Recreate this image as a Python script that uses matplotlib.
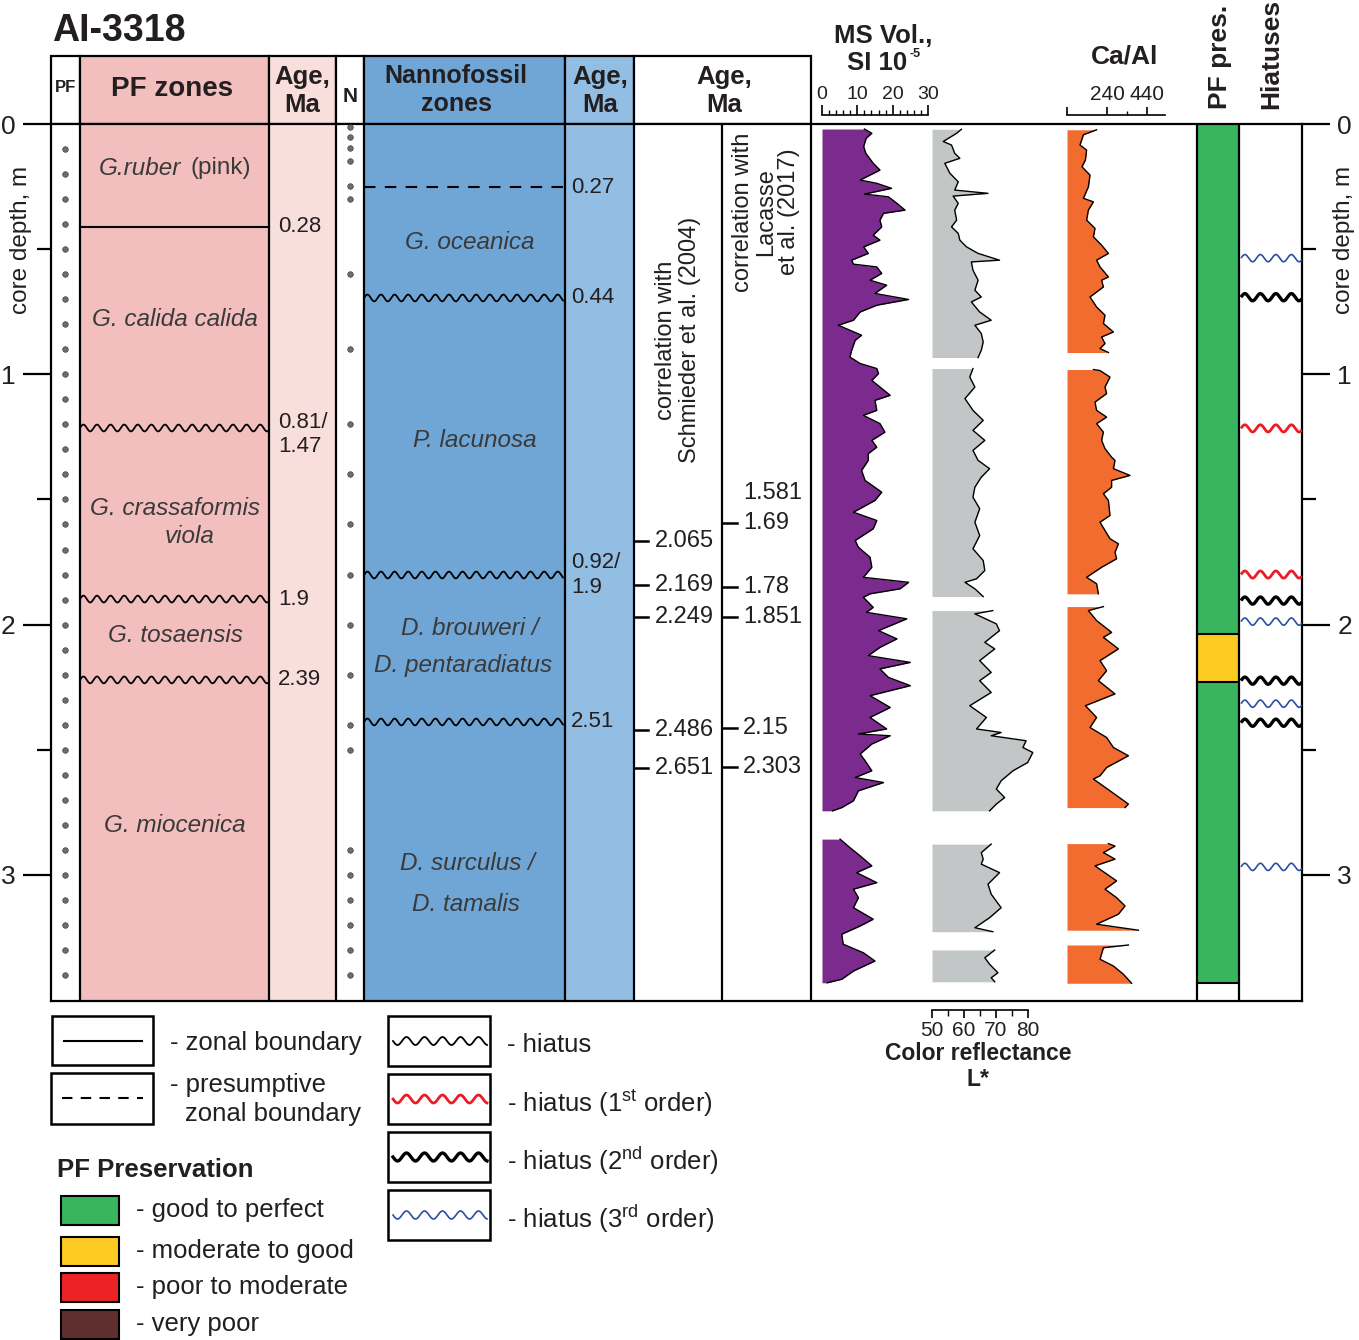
import numpy as np
import matplotlib
matplotlib.use("Agg")
import matplotlib.pyplot as plt
from matplotlib.patches import Rectangle

plt.rcParams['font.family'] = ['Liberation Sans', 'DejaVu Sans']
plt.rcParams['mathtext.fontset'] = 'custom'
plt.rcParams['mathtext.rm'] = 'Liberation Sans'
plt.rcParams['mathtext.bf'] = 'Liberation Sans:bold'

W, H = 1359, 1340
PX_PER_M = 250.3          # vertical scale of the core, px per metre
Y_TOP, Y_BOT = 124, 1001  # pixel rows of 0 m and of the column bottoms
D_BOT = (Y_BOT - Y_TOP) / PX_PER_M

TXT = '#231f20'
ZTXT = '#3a3a3a'

# ---------------- data ----------------
DEPTH_TICKS = [0, 1, 2, 3]
DEPTH_MINOR = [0.5, 1.5, 2.5]

PF_DOTS = [0.1, 0.2, 0.3, 0.4, 0.5, 0.6, 0.7, 0.8, 0.9, 1.0, 1.1, 1.2, 1.3, 1.4,
           1.5, 1.6, 1.7, 1.8, 1.9, 2.0, 2.1, 2.2, 2.3, 2.4, 2.5, 2.6, 2.7, 2.8,
           2.9, 3.0, 3.1, 3.2, 3.3, 3.4]
N_DOTS = [0.012, 0.052, 0.096, 0.148, 0.246, 0.30, 0.60, 0.90, 1.20, 1.40,
          1.60, 1.80, 2.00, 2.20, 2.40, 2.50, 2.90, 3.00, 3.10, 3.20, 3.30, 3.40]

# planktonic foraminifera zones
PF_BOUND_DEPTH = [0.4115, 1.2145, 1.898, 2.221]
PF_BOUND_KIND = ['solid', 'wavy', 'wavy', 'wavy']
PF_BOUND_AGE = ['0.28', '0.81/\n1.47', '1.9', '2.39']
PF_ZONE_LINES = [  # (text, depth, x centre)
    ('G. calida calida', 0.783, 175),
    ('G. crassaformis', 1.536, 175),
    ('viola', 1.648, 190),
    ('G. tosaensis', 2.045, 175),
    ('G. miocenica', 2.801, 175),
]

# nannofossil zones
NN_BOUND_DEPTH = [0.2517, 0.695, 1.8018, 2.389]
NN_BOUND_KIND = ['dashed', 'wavy', 'wavy', 'wavy']
NN_BOUND_AGE = ['0.27', '0.44', '0.92/\n1.9', '2.51']
NN_ZONE_LINES = [
    ('G. oceanica', 0.475, 470),
    ('P. lacunosa', 1.266, 475),
    ('D. brouweri /', 2.017, 470),
    ('D. pentaradiatus', 2.165, 463),
    ('D. surculus /', 2.956, 467),
    ('D. tamalis', 3.12, 466),
]

# age correlations
SCHM_DEPTH = [1.666, 1.842, 1.970, 2.420, 2.572]
SCHM_AGE = ['2.065', '2.169', '2.249', '2.486', '2.651']
LAC_DEPTH = [1.474, 1.594, 1.850, 1.970, 2.413, 2.569]
LAC_AGE = ['1.581', '1.69', '1.78', '1.851', '2.15', '2.303']
LAC_TICK = [False, True, True, True, True, True]

# hiatuses (order 1, 2, 3)
HIATUS_DEPTH = [0.536, 0.692, 1.216, 1.800, 1.904, 1.988, 2.224, 2.316, 2.392, 2.968]
HIATUS_ORDER = [3, 2, 1, 1, 2, 3, 2, 3, 2, 3]

# PF preservation
PRES_TOP = [0.0, 2.036, 2.228]
PRES_BOT = [2.036, 2.228, 3.430]
PRES_CLASS = ['good', 'moderate', 'good']

# magnetic susceptibility, SI 1e-5: (depth m, value)
MS_SEG1 = [(0.020, 12.0), (0.037, 14.1), (0.057, 12.5), (0.090, 11.8), (0.117, 12.4),
           (0.157, 14.5), (0.184, 16.4), (0.204, 13.6), (0.224, 10.8), (0.237, 15.5),
           (0.257, 19.7), (0.280, 12.0), (0.291, 18.8), (0.317, 21.2), (0.344, 23.5),
           (0.357, 17.4), (0.384, 16.4), (0.411, 16.9), (0.444, 14.5), (0.464, 16.4),
           (0.491, 11.8), (0.517, 13.1), (0.544, 8.4), (0.560, 8.9), (0.571, 15.5),
           (0.597, 16.9), (0.624, 13.6), (0.644, 18.3), (0.677, 15.0), (0.701, 24.5),
           (0.724, 15.5), (0.751, 10.8), (0.784, 8.9), (0.804, 4.6), (0.824, 7.9),
           (0.844, 11.2), (0.864, 9.4), (0.904, 8.4), (0.931, 7.9), (0.957, 10.8),
           (0.977, 15.5), (0.997, 16.0), (1.024, 14.1), (1.051, 16.4), (1.084, 19.3),
           (1.104, 15.0), (1.144, 15.5), (1.164, 11.7), (1.197, 16.4), (1.231, 17.8),
           (1.264, 14.1), (1.291, 15.5), (1.317, 13.1), (1.344, 13.1), (1.384, 11.2),
           (1.424, 12.2), (1.471, 16.9), (1.504, 15.0), (1.551, 8.9), (1.584, 15.5),
           (1.617, 14.5), (1.664, 9.4), (1.691, 10.3), (1.731, 13.6), (1.771, 14.1),
           (1.811, 11.7), (1.831, 24.5), (1.857, 22.1), (1.877, 13.6), (1.891, 11.7),
           (1.931, 14.5), (1.951, 12.6), (1.977, 24.0), (2.024, 16.0), (2.057, 21.2),
           (2.091, 16.4), (2.124, 13.1), (2.151, 25.0), (2.177, 16.4), (2.211, 18.8),
           (2.244, 25.0), (2.284, 13.6), (2.331, 19.3), (2.371, 13.6), (2.417, 18.3),
           (2.437, 10.3), (2.444, 19.3), (2.477, 14.1), (2.517, 10.8), (2.544, 12.2),
           (2.584, 14.1), (2.611, 9.4), (2.631, 17.4), (2.664, 10.3), (2.704, 8.9),
           (2.731, 5.6), (2.744, 3.0)]
MS_SEG2 = [(2.857, 5.1), (2.891, 7.9), (2.924, 10.8), (2.964, 14.1), (2.991, 9.8),
           (3.031, 15.5), (3.057, 8.9), (3.091, 10.3), (3.131, 8.9), (3.177, 14.5),
           (3.204, 10.8), (3.237, 5.6), (3.277, 6.0), (3.311, 11.7), (3.344, 15.0),
           (3.384, 8.9), (3.417, 5.6), (3.431, 1.5)]

# colour reflectance L*
LS_SEG1 = [(0.021, 59.2), (0.037, 57.7), (0.070, 53.5), (0.084, 56.1), (0.117, 57.1),
           (0.137, 58.7), (0.157, 54.0), (0.197, 55.6), (0.231, 58.2), (0.264, 57.1),
           (0.277, 67.5), (0.288, 56.6), (0.317, 58.2), (0.344, 57.1), (0.384, 57.7),
           (0.411, 56.1), (0.437, 58.2), (0.464, 58.7), (0.491, 60.8), (0.517, 64.4),
           (0.544, 71.1), (0.551, 62.3), (0.584, 62.8), (0.624, 64.4), (0.664, 63.4),
           (0.691, 65.4), (0.711, 62.3), (0.751, 64.9), (0.784, 68.5), (0.804, 63.4),
           (0.837, 65.4), (0.871, 66.0), (0.904, 65.4), (0.933, 64.4)]
LS_SEG2 = [(0.977, 62.8), (1.011, 61.8), (1.051, 63.4), (1.097, 60.3), (1.144, 62.8),
           (1.184, 66.0), (1.224, 62.8), (1.264, 66.5), (1.304, 62.8), (1.344, 64.4),
           (1.377, 68.0), (1.411, 65.4), (1.451, 63.4), (1.491, 62.8), (1.537, 64.9),
           (1.591, 63.4), (1.644, 64.9), (1.697, 62.8), (1.744, 66.0), (1.784, 66.5),
           (1.817, 63.9), (1.831, 60.3), (1.857, 63.4), (1.888, 66.0)]
LS_SEG3 = [(1.944, 69.0), (1.957, 63.4), (1.997, 70.1), (2.024, 71.1), (2.071, 66.5),
           (2.097, 69.6), (2.144, 64.9), (2.191, 68.5), (2.224, 64.9), (2.271, 68.5),
           (2.324, 61.8), (2.371, 67.0), (2.417, 63.9), (2.431, 71.6), (2.444, 68.5),
           (2.464, 79.4), (2.491, 78.4), (2.511, 81.5), (2.551, 79.9), (2.584, 75.3),
           (2.624, 71.6), (2.657, 70.1), (2.691, 72.7), (2.717, 70.1), (2.744, 68.0)]
LS_SEG4 = [(2.877, 68.5), (2.911, 65.4), (2.937, 66.0), (2.957, 65.4), (2.991, 71.1),
           (3.037, 67.5), (3.077, 68.5), (3.131, 71.6), (3.171, 68.0), (3.211, 63.4),
           (3.227, 69.0)]
LS_SEG5 = [(3.300, 69.6), (3.331, 66.5), (3.357, 68.0), (3.391, 70.6), (3.411, 68.5),
           (3.427, 69.6)]

# Ca/Al
CA_SEG1 = [(0.023, 188), (0.043, 122), (0.084, 105), (0.104, 138), (0.144, 132),
           (0.171, 115), (0.204, 155), (0.251, 147), (0.297, 122), (0.311, 172),
           (0.344, 147), (0.384, 138), (0.417, 180), (0.451, 172), (0.484, 213),
           (0.517, 247), (0.544, 188), (0.571, 205), (0.611, 247), (0.624, 213),
           (0.651, 222), (0.691, 155), (0.731, 188), (0.764, 230), (0.797, 222),
           (0.831, 272), (0.851, 213), (0.877, 230), (0.897, 205), (0.913, 247)]
CA_SEG2 = [(0.981, 172), (0.985, 205), (1.011, 255), (1.051, 230), (1.077, 238),
           (1.111, 180), (1.144, 188), (1.171, 238), (1.197, 188), (1.231, 222),
           (1.264, 213), (1.297, 230), (1.331, 263), (1.344, 280), (1.377, 272),
           (1.404, 355), (1.424, 263), (1.451, 263), (1.477, 222), (1.504, 247),
           (1.564, 255), (1.591, 205), (1.624, 230), (1.657, 255), (1.677, 297),
           (1.711, 280), (1.737, 288), (1.771, 213), (1.811, 138), (1.837, 188),
           (1.877, 197)]
CA_SEG3 = [(1.928, 222), (1.944, 147), (1.984, 188), (2.031, 263), (2.051, 222),
           (2.097, 297), (2.144, 205), (2.184, 238), (2.224, 197), (2.277, 280),
           (2.324, 132), (2.371, 188), (2.411, 155), (2.451, 238), (2.491, 272),
           (2.524, 347), (2.571, 238), (2.604, 205), (2.617, 172), (2.664, 255),
           (2.717, 347), (2.731, 330)]
CA_SEG4 = [(2.875, 247), (2.885, 280), (2.911, 222), (2.937, 280), (2.964, 180),
           (3.024, 288), (3.057, 230), (3.091, 288), (3.124, 330), (3.157, 297),
           (3.197, 188), (3.221, 397)]
CA_SEG5 = [(3.280, 347), (3.291, 222), (3.337, 205), (3.364, 272), (3.397, 322),
           (3.433, 363)]

# ---------------- colours ----------------
PINK, PINK_L = '#f2bfbe', '#f9dfdc'
BLUE, BLUE_L = '#70a6d6', '#93bee3'
PURPLE, GREY, ORANGE = '#7b2b8e', '#c3c6c7', '#f26c2f'
PRES_COL = {'good': '#39b45f', 'moderate': '#fdcb22', 'poor': '#ed2224', 'very poor': '#5f2f2f'}
HIATUS_STYLE = {0: ('black', 1.3), 1: ('#ed1c24', 2.0), 2: ('black', 2.4), 3: ('#2b4ea2', 1.2)}

fig = plt.figure(figsize=(W / 100, H / 100), dpi=100)


def px_axes(x0, y0, x1, y1):
    return fig.add_axes([x0 / W, 1 - y1 / H, (x1 - x0) / W, (y1 - y0) / H])


def wave(x0, x1, period, amp):
    xs = np.linspace(x0, x1, 300)
    return xs, amp * np.sin(2 * np.pi * (xs - x0) / period)


# background axes in pixel units: headers, legend
bg = px_axes(0, 0, W, H)
bg.set_xlim(0, W)
bg.set_ylim(H, 0)
bg.axis('off')

bg.text(52, 31, 'AI-3318', fontsize=27, weight='bold', color=TXT, ha='left', va='center')

# header row
hdr = [(51, 80, 'white'), (80, 269, PINK), (269, 336, PINK_L), (336, 364, 'white'),
       (364, 565, BLUE), (565, 634, BLUE_L), (634, 811, 'white')]
for x0, x1, c in hdr:
    bg.add_patch(Rectangle((x0, 56), x1 - x0, Y_TOP - 56, facecolor=c,
                           edgecolor='black', lw=1.6))
bg.text(65, 88, 'PF', fontsize=12, weight='bold', color=TXT, ha='center', va='center')
bg.text(172, 89, 'PF zones', fontsize=20, weight='bold', color=TXT, ha='center', va='center')
for xc in [302, 600, 724]:
    bg.text(xc, 91, 'Age,\nMa', fontsize=18.5, weight='bold', color=TXT, ha='center',
            va='center', linespacing=1.2)
bg.text(350, 97, 'N', fontsize=15, weight='bold', color=TXT, ha='center', va='center')
bg.text(456, 90, 'Nannofossil\nzones', fontsize=18, weight='bold', color=TXT, ha='center',
        va='center', linespacing=1.25)

bg.text(883, 36, 'MS Vol.,', fontsize=18.5, weight='bold', color=TXT, ha='center', va='center')
bg.text(877, 63, 'SI 10', fontsize=18.5, weight='bold', color=TXT, ha='center', va='center')
bg.text(910, 54, '-5', fontsize=9, weight='bold', color=TXT, ha='left', va='center')
bg.text(1125, 56, 'Ca/Al', fontsize=19, weight='bold', color=TXT, ha='center', va='center')
bg.text(1220, 57, 'PF pres.', fontsize=19, weight='bold', color=TXT, rotation=90,
        ha='center', va='center')
bg.text(1271, 54, 'Hiatuses', fontsize=19, weight='bold', color=TXT, rotation=90,
        ha='center', va='center')
bg.text(21, 240, 'core depth, m', fontsize=17.5, color=TXT, rotation=90,
        ha='center', va='center')
bg.text(1344, 240, 'core depth, m', fontsize=17.5, color=TXT, rotation=90,
        ha='center', va='center')
bg.text(857, 824, 'data gap', fontsize=11.5, color=TXT, ha='center', va='center')
bg.text(957, 825, 'data gap', fontsize=11.5, color=TXT, ha='center', va='center')
bg.text(978, 1054, 'Color reflectance', fontsize=16.5, weight='bold', color=TXT,
        ha='center', va='center')
bg.text(978, 1079, 'L*', fontsize=16.5, weight='bold', color=TXT, ha='center', va='center')

# ---------------- main depth axes (x in px, y in metres) ----------------
ax = px_axes(51, Y_TOP, 1302, Y_BOT)
ax.set_xlim(51, 1302)
ax.set_ylim(D_BOT, 0)
for s in ax.spines.values():
    s.set_linewidth(1.6)
ax.set_xticks([])
ax.set_yticks(DEPTH_TICKS)
ax.set_yticks(DEPTH_MINOR, minor=True)
ax.yaxis.set_ticks_position('both')
ax.tick_params(axis='y', which='major', length=20.5, width=1.6, labelsize=19,
               labelcolor=TXT, pad=5, labelright=True, labelleft=True)
ax.tick_params(axis='y', which='minor', length=10, width=1.6)

ax.axvspan(80, 269, color=PINK, lw=0, zorder=0)
ax.axvspan(269, 336, color=PINK_L, lw=0, zorder=0)
ax.axvspan(364, 565, color=BLUE, lw=0, zorder=0)
ax.axvspan(565, 634, color=BLUE_L, lw=0, zorder=0)
for x in [80, 269, 336, 364, 565, 634, 722, 811, 1197, 1239]:
    ax.axvline(x, color='black', lw=1.6, zorder=3)

# sample dots
ax.scatter([65] * len(PF_DOTS), PF_DOTS, s=16, color='#6d6e71', edgecolor='#414042',
           lw=0.5, zorder=4)
ax.scatter([350] * len(N_DOTS), N_DOTS, s=16, color='#6d6e71', edgecolor='#414042',
           lw=0.5, zorder=4)


def boundary(d, kind, x0, x1):
    if kind == 'solid':
        ax.plot([x0, x1], [d, d], color='black', lw=1.5, zorder=3)
    elif kind == 'dashed':
        ax.plot([x0, x1], [d, d], color='black', lw=1.5, ls=(0, (5.5, 4.5)), zorder=3)
    else:
        xs, off = wave(x0, x1, 13.6, 3.4)
        ax.plot(xs, d - off / PX_PER_M, color='black', lw=1.3, zorder=3)


for d, k, a in zip(PF_BOUND_DEPTH, PF_BOUND_KIND, PF_BOUND_AGE):
    boundary(d, k, 80, 269)
    ax.text(278, d + (0.025 if '\n' in a else 0), a, fontsize=16, color=TXT,
            ha='left', va='center', linespacing=1.2)
for d, k, a in zip(NN_BOUND_DEPTH, NN_BOUND_KIND, NN_BOUND_AGE):
    boundary(d, k, 364, 563)
    ax.text(571, d, a, fontsize=16, color=TXT, ha='left', va='center', linespacing=1.2)

ax.text(99, 0.176, 'G.ruber', fontsize=17.5, style='italic', color=ZTXT, ha='left', va='center')
ax.text(251, 0.176, '(pink)', fontsize=17.5, color=ZTXT, ha='right', va='center')
for t, d, x in PF_ZONE_LINES + NN_ZONE_LINES:
    ax.text(x, d, t, fontsize=17.5, style='italic', color=ZTXT, ha='center', va='center')

# correlation columns
ax.text(678, 0.863, 'correlation with\nSchmieder et al. (2004)', fontsize=17, color=TXT,
        rotation=90, ha='center', va='center', multialignment='center', linespacing=1.12)
ax.text(766, 0.352, 'correlation with\nLacasse\net al. (2017)', fontsize=17, color=TXT,
        rotation=90, ha='center', va='center', multialignment='center', linespacing=1.05)
for d, a in zip(SCHM_DEPTH, SCHM_AGE):
    ax.plot([634, 648], [d, d], color='black', lw=1.8, zorder=3)
    ax.text(655, d, a, fontsize=17, color=TXT, ha='left', va='center')
for d, a, t in zip(LAC_DEPTH, LAC_AGE, LAC_TICK):
    if t:
        ax.plot([722, 737], [d, d], color='black', lw=1.8, zorder=3)
    ax.text(743, d, a, fontsize=17, color=TXT, ha='left', va='center')

# PF preservation column
for t, b, c in zip(PRES_TOP, PRES_BOT, PRES_CLASS):
    ax.fill_betweenx([t, b], 1197, 1239, color=PRES_COL[c], lw=0, zorder=1)
for b in PRES_BOT:
    ax.plot([1197, 1239], [b, b], color='black', lw=1.5, zorder=3)

# hiatuses column
for d, o in zip(HIATUS_DEPTH, HIATUS_ORDER):
    c, lw = HIATUS_STYLE[o]
    xs, off = wave(1241, 1302, 15.5, 3.6)
    ax.plot(xs, d - off / PX_PER_M, color=c, lw=lw, zorder=3, solid_capstyle='butt')


# ---------------- log tracks ----------------
def track(x0, x1, lim, base, segs, color, top_scale):
    t = px_axes(x0, Y_TOP, x1, Y_BOT)
    t.set_xlim(*lim)
    t.set_ylim(D_BOT, 0)
    t.patch.set_visible(False)
    t.set_yticks([])
    keep = 'top' if top_scale else 'bottom'
    for name, s in t.spines.items():
        s.set_visible(name == keep)
    t.spines[keep].set_position(('outward', 6.5))
    t.spines[keep].set_linewidth(1.2)
    t.xaxis.set_ticks_position(keep)
    for seg in segs:
        d = [p[0] for p in seg]
        v = [p[1] for p in seg]
        t.fill_betweenx(d, base, v, color=color, lw=0, clip_on=False)
        t.plot(v, d, color='black', lw=1.0, clip_on=False)
    return t


ms = track(822, 928, (0, 30), 0, [MS_SEG1, MS_SEG2], PURPLE, True)
ms.set_xticks([0, 10, 20, 30])
ms.set_xticks([2, 4, 6, 8, 12, 14, 16, 18, 22, 24, 26, 28], minor=True)
ms.tick_params(axis='x', which='major', direction='out', length=7, width=1.2,
               labelsize=14, labelcolor=TXT, pad=1.5)
ms.tick_params(axis='x', which='minor', direction='out', length=3.5, width=1.0)

ls = track(932, 1028, (50, 80), 50, [LS_SEG1, LS_SEG2, LS_SEG3, LS_SEG4, LS_SEG5],
           GREY, False)
ls.set_xticks([50, 60, 70, 80])
ls.set_xticks([55, 65, 75], minor=True)
ls.tick_params(axis='x', which='major', direction='out', length=6, width=1.2,
               labelsize=15, labelcolor=TXT, pad=2)
ls.tick_params(axis='x', which='minor', direction='out', length=4, width=1.0)

ca = track(1067, 1165, (40, 530), 40, [CA_SEG1, CA_SEG2, CA_SEG3, CA_SEG4, CA_SEG5],
           ORANGE, True)
ca.set_xticks([40, 240, 440])
ca.set_xticklabels(['', '240', '440'])
ca.set_xticks([340], minor=True)
ca.tick_params(axis='x', which='major', direction='out', length=6, width=1.2,
               labelsize=15, labelcolor=TXT, pad=2)
ca.tick_params(axis='x', which='minor', direction='out', length=3, width=1.0)

# ---------------- legend ----------------
LEG_FS = 18.5
bg.add_patch(Rectangle((52, 1016), 101, 49, fill=False, lw=1.8))
bg.plot([64, 142], [1041, 1041], color='black', lw=1.5)
bg.text(170, 1043, '- zonal boundary', fontsize=LEG_FS, color=TXT, ha='left', va='center')
bg.add_patch(Rectangle((51, 1073), 102, 51, fill=False, lw=1.8))
bg.plot([62, 143], [1098, 1098], color='black', lw=1.5, ls=(0, (5, 4)))
bg.text(170, 1085, '- presumptive', fontsize=LEG_FS, color=TXT, ha='left', va='center')
bg.text(185, 1114, 'zonal boundary', fontsize=LEG_FS, color=TXT, ha='left', va='center')

bg.text(57, 1170, 'PF Preservation', fontsize=18.5, weight='bold', color=TXT,
        ha='left', va='center')
PRES_LEG = [('good', '- good to perfect', 1196), ('moderate', '- moderate to good', 1237),
            ('poor', '- poor to moderate', 1273), ('very poor', '- very poor', 1310)]
for key, lab, y0 in PRES_LEG:
    bg.add_patch(Rectangle((61, y0), 58, 29, facecolor=PRES_COL[key], edgecolor='black',
                           lw=1.5))
    bg.text(136, y0 + 14, lab, fontsize=LEG_FS, color=TXT, ha='left', va='center')

HIATUS_LEG = [(0, '- hiatus', 1016),
              (1, r'- hiatus (1$^{\mathrm{st}}$ order)', 1074),
              (2, r'- hiatus (2$^{\mathrm{nd}}$ order)', 1132),
              (3, r'- hiatus (3$^{\mathrm{rd}}$ order)', 1190)]
for o, lab, y0 in HIATUS_LEG:
    bg.add_patch(Rectangle((388, y0), 102, 50, fill=False, lw=1.8))
    c, lw = HIATUS_STYLE[o]
    xs, off = wave(393, 487, 18, 4.0)
    bg.plot(xs, y0 + 25 + off, color=c, lw=lw)
    bg.text(507, y0 + 29, lab, fontsize=LEG_FS, color=TXT, ha='left', va='center')

fig.savefig('out.png', dpi=100)
